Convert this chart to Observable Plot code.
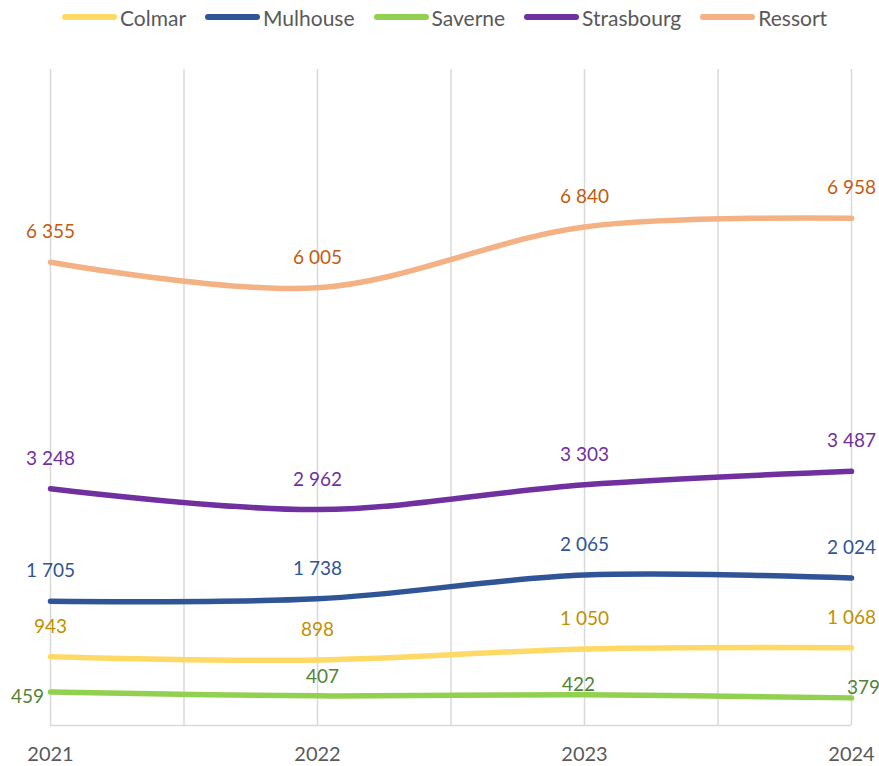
<!DOCTYPE html>
<html>
<head>
<meta charset="utf-8">
<script src="https://cdn.jsdelivr.net/npm/d3@7"></script>
<script src="https://cdn.jsdelivr.net/npm/@observablehq/plot@0.6"></script>
<style>
  html, body { margin: 0; padding: 0; background: #fff; }
  #wrap { position: relative; width: 879px; height: 766px; font-family: Lato, "Open Sans", sans-serif; }
  #legend { position: absolute; left: 0; top: 0; width: 879px; height: 34px; display: flex; justify-content: flex-start; align-items: center; padding-left: 62px; box-sizing: border-box; }
  .item { display: flex; align-items: center; margin-right: 19px; color: #595959; font-size: 21px; }
  .sw { width: 55px; height: 6px; border-radius: 3px; margin-right: 3px; }
  #chart { position: absolute; left: 0; top: 0; }
</style>
</head>
<body>
<div id="wrap">
  <div id="chart"></div>
  <div id="legend"></div>
</div>
<script>
const years = [2021, 2022, 2023, 2024];
const series = ["Colmar", "Mulhouse", "Saverne", "Strasbourg", "Ressort"];
const colmar = [943, 898, 1050, 1068];
const mulhouse = [1705, 1738, 2065, 2024];
const saverne = [459, 407, 422, 379];
const strasbourg = [3248, 2962, 3303, 3487];
const ressort = [6355, 6005, 6840, 6958];

const values = { Colmar: colmar, Mulhouse: mulhouse, Saverne: saverne, Strasbourg: strasbourg, Ressort: ressort };
const lineColors = { Colmar: "#FFD966", Mulhouse: "#2F5597", Saverne: "#92D050", Strasbourg: "#7030A0", Ressort: "#F4B183" };
const labelColors = { Colmar: "#BF9000", Mulhouse: "#2F5597", Saverne: "#548235", Strasbourg: "#7030A0", Ressort: "#C55A11" };

const data = series.flatMap(s => years.map((y, i) => ({ series: s, year: y, value: values[s][i] })));

// label placement tweaks (style only)
function offset(d) {
  if (d.series === "Saverne") {
    if (d.year === 2021) return { dx: -23, dy: 5 };
    if (d.year === 2022) return { dx: 5, dy: -19 };
    if (d.year === 2023) return { dx: -6, dy: -10 };
    if (d.year === 2024) return { dx: 12, dy: -10 };
  }
  return { dx: 0, dy: -30 };
}
const fmt = v => d3.format(",")(v).replace(/,/g, " ");

const labelMarks = data.map(d => {
  const o = offset(d);
  return Plot.text([d], {
    x: "year", y: "value", text: d => fmt(d.value),
    dx: o.dx, dy: o.dy, fill: labelColors[d.series], fontSize: 19
  });
});

const grid = d3.range(2021, 2024.01, 0.5);

const chart = Plot.plot({
  width: 879,
  height: 766,
  marginTop: 69,
  marginBottom: 41,
  marginLeft: 50,
  marginRight: 28,
  style: { fontFamily: "Lato, 'Open Sans', sans-serif", background: "#fff" },
  x: { domain: [2021, 2024], axis: null },
  y: { domain: [0, 9000], axis: null },
  marks: [
    Plot.ruleX(grid, { x: d => d, y1: 0, y2: 9000, stroke: "#D9D9D9", strokeWidth: 1.5 }),
    Plot.ruleY([0], { stroke: "#D9D9D9", strokeWidth: 1.5 }),
    Plot.text(years, { x: d => d, frameAnchor: "bottom", dy: 29, text: d => String(d), fill: "#595959", fontSize: 20, lineAnchor: "middle" }),
    Plot.line(data, { x: "year", y: "value", z: "series", stroke: d => lineColors[d.series], strokeWidth: 5.5, curve: "catmull-rom", strokeLinecap: "round" }),
    ...labelMarks
  ]
});
document.getElementById("chart").appendChild(chart);

const legend = document.getElementById("legend");
series.forEach(s => {
  const it = document.createElement("div");
  it.className = "item";
  const sw = document.createElement("div");
  sw.className = "sw";
  sw.style.background = lineColors[s];
  const t = document.createElement("span");
  t.textContent = s;
  it.appendChild(sw); it.appendChild(t);
  legend.appendChild(it);
});
</script>
</body>
</html>
